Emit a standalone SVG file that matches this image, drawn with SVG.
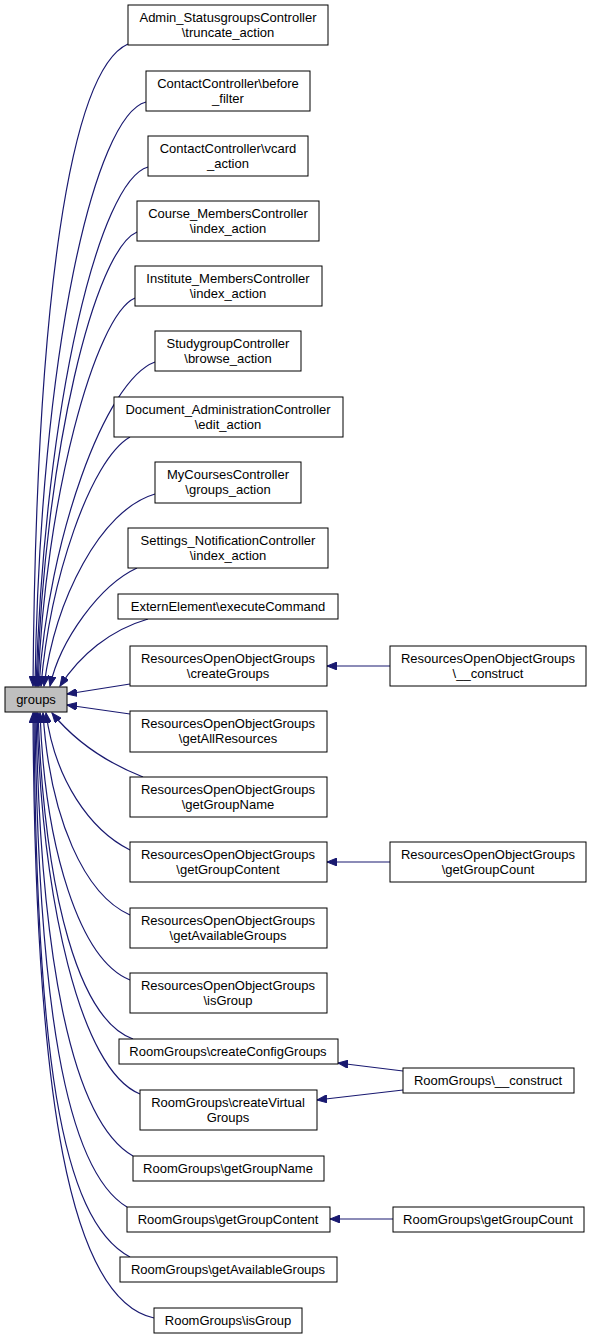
<svg xmlns="http://www.w3.org/2000/svg" width="592" height="1339" viewBox="0 0 592 1339">
<style>
.n rect{fill:#fff;stroke:#000;stroke-width:1}
.n text{font-family:"Liberation Sans",Arial,sans-serif;font-size:13px;text-anchor:middle;fill:#000}
#edges path{fill:none;stroke:#191970;stroke-width:1.2;marker-end:url(#ah)}
</style>
<defs>
<marker id="ah" markerUnits="userSpaceOnUse" markerWidth="11" markerHeight="8" refX="10" refY="4" orient="auto">
<path d="M0,0 L10,4 L0,8 z" fill="#191970" stroke="#191970" stroke-width="1"/>
</marker>
</defs>
<rect width="592" height="1339" fill="#fff"/>
<g id="edges">
<path d="M128,44 C70,70 36,300 33,686"/>
<path d="M146,102 C95,115 40,350 35,686"/>
<path d="M148,167 C100,180 45,400 36,686"/>
<path d="M137,232 C95,250 45,450 37,686"/>
<path d="M135,298 C95,315 45,500 38,686"/>
<path d="M155,362 C105,380 48,540 39,686"/>
<path d="M130,437 C90,460 50,580 41,686"/>
<path d="M155,494 C100,510 55,600 44,686"/>
<path d="M137,568 C100,585 60,640 50,686"/>
<path d="M148,619 C110,630 80,655 60,686"/>
<path d="M130,684 L67,694"/>
<path d="M130,714 L67,705"/>
<path d="M143,777 C100,760 70,735 52,713"/>
<path d="M130,850 C90,830 55,780 46,713"/>
<path d="M130,915 C85,895 50,820 43,713"/>
<path d="M130,980 C80,960 45,850 40,713"/>
<path d="M133,1039 C80,1020 45,900 38,713"/>
<path d="M140,1094 C80,1070 42,900 37,713"/>
<path d="M133,1156 C70,1120 40,950 36,713"/>
<path d="M127,1207 C65,1170 38,1000 35,713"/>
<path d="M130,1257 C60,1220 36,1050 34,713"/>
<path d="M154,1318 C70,1300 35,1100 33,713"/>
<path d="M390,666 L327,666"/>
<path d="M390,862 L327,862"/>
<path d="M403,1071 L338,1063"/>
<path d="M403,1090 L317,1100"/>
<path d="M393,1219 L330,1219"/>
</g>
<g id="groups" class="n"><rect x="5" y="687" width="62" height="25" style="fill:#bfbfbf"/><text x="36" y="704">groups</text></g>
<g id="n1" class="n"><rect x="128" y="5" width="200" height="40"/><text x="228" y="22">Admin_StatusgroupsController</text><text x="228" y="37">\truncate_action</text></g>
<g id="n2" class="n"><rect x="146" y="71" width="164" height="40"/><text x="228" y="88">ContactController\before</text><text x="228" y="103">_filter</text></g>
<g id="n3" class="n"><rect x="148" y="136" width="160" height="40"/><text x="228" y="153">ContactController\vcard</text><text x="228" y="168">_action</text></g>
<g id="n4" class="n"><rect x="137" y="201" width="182" height="40"/><text x="228" y="218">Course_MembersController</text><text x="228" y="233">\index_action</text></g>
<g id="n5" class="n"><rect x="135" y="266" width="187" height="40"/><text x="228" y="283">Institute_MembersController</text><text x="228" y="298">\index_action</text></g>
<g id="n6" class="n"><rect x="155" y="331" width="146" height="40"/><text x="228" y="348">StudygroupController</text><text x="228" y="363">\browse_action</text></g>
<g id="n7" class="n"><rect x="114" y="397" width="229" height="40"/><text x="228" y="414">Document_AdministrationController</text><text x="228" y="429">\edit_action</text></g>
<g id="n8" class="n"><rect x="155" y="462" width="146" height="41"/><text x="228" y="479">MyCoursesController</text><text x="228" y="494">\groups_action</text></g>
<g id="n9" class="n"><rect x="128" y="528" width="200" height="40"/><text x="228" y="545">Settings_NotificationController</text><text x="228" y="560">\index_action</text></g>
<g id="n10" class="n"><rect x="118" y="594" width="220" height="25"/><text x="228" y="611">ExternElement\executeCommand</text></g>
<g id="n11" class="n"><rect x="130" y="646" width="197" height="40"/><text x="228" y="663">ResourcesOpenObjectGroups</text><text x="228" y="678">\createGroups</text></g>
<g id="n12" class="n"><rect x="130" y="711" width="197" height="41"/><text x="228" y="728">ResourcesOpenObjectGroups</text><text x="228" y="743">\getAllResources</text></g>
<g id="n13" class="n"><rect x="130" y="777" width="197" height="40"/><text x="228" y="794">ResourcesOpenObjectGroups</text><text x="228" y="809">\getGroupName</text></g>
<g id="n14" class="n"><rect x="130" y="842" width="197" height="40"/><text x="228" y="859">ResourcesOpenObjectGroups</text><text x="228" y="874">\getGroupContent</text></g>
<g id="n15" class="n"><rect x="130" y="908" width="197" height="40"/><text x="228" y="925">ResourcesOpenObjectGroups</text><text x="228" y="940">\getAvailableGroups</text></g>
<g id="n16" class="n"><rect x="130" y="973" width="197" height="40"/><text x="228" y="990">ResourcesOpenObjectGroups</text><text x="228" y="1005">\isGroup</text></g>
<g id="n17" class="n"><rect x="119" y="1039" width="219" height="25"/><text x="228" y="1056">RoomGroups\createConfigGroups</text></g>
<g id="n18" class="n"><rect x="140" y="1090" width="177" height="40"/><text x="228" y="1107">RoomGroups\createVirtual</text><text x="228" y="1122">Groups</text></g>
<g id="n19" class="n"><rect x="133" y="1156" width="191" height="25"/><text x="228" y="1173">RoomGroups\getGroupName</text></g>
<g id="n20" class="n"><rect x="127" y="1207" width="203" height="25"/><text x="228" y="1224">RoomGroups\getGroupContent</text></g>
<g id="n21" class="n"><rect x="120" y="1257" width="217" height="25"/><text x="228" y="1274">RoomGroups\getAvailableGroups</text></g>
<g id="n22" class="n"><rect x="154" y="1308" width="148" height="25"/><text x="228" y="1325">RoomGroups\isGroup</text></g>
<g id="r1" class="n"><rect x="390" y="646" width="196" height="40"/><text x="488" y="663">ResourcesOpenObjectGroups</text><text x="488" y="678">\__construct</text></g>
<g id="r2" class="n"><rect x="390" y="842" width="196" height="40"/><text x="488" y="859">ResourcesOpenObjectGroups</text><text x="488" y="874">\getGroupCount</text></g>
<g id="r3" class="n"><rect x="403" y="1068" width="171" height="25"/><text x="488" y="1085">RoomGroups\__construct</text></g>
<g id="r4" class="n"><rect x="393" y="1207" width="191" height="25"/><text x="488" y="1224">RoomGroups\getGroupCount</text></g>
</svg>
